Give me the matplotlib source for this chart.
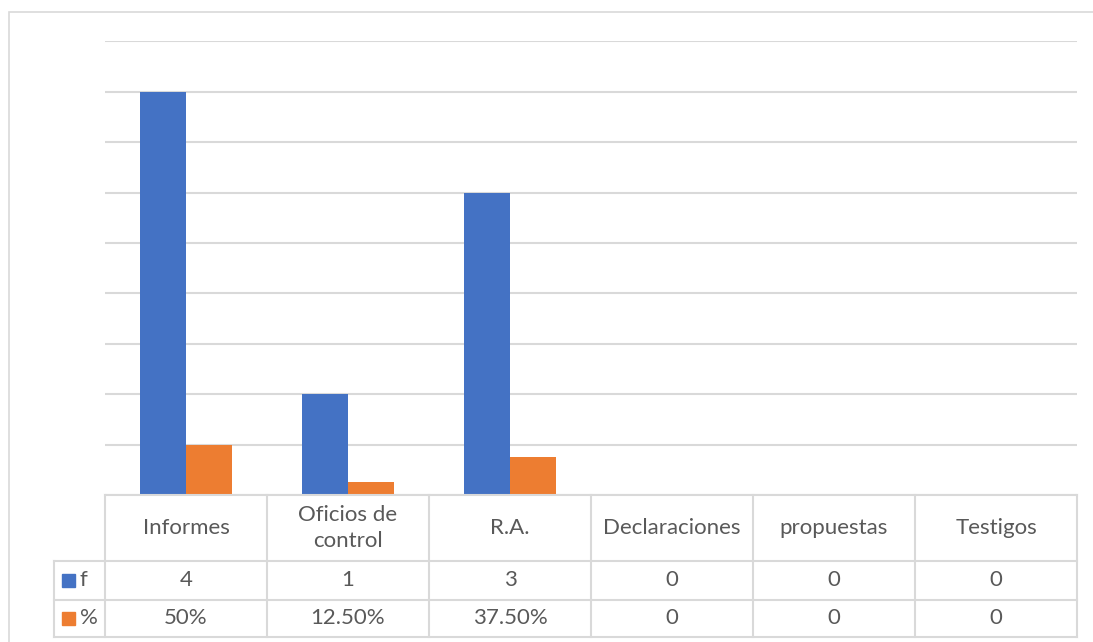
import matplotlib.pyplot as plt
from matplotlib.patches import Rectangle
import numpy as np

plt.rcParams['font.family'] = ['Lato', 'DejaVu Sans']

categories = ["Informes", "Oficios de\ncontrol", "R.A.", "Declaraciones", "propuestas", "Testigos"]
f_vals = [4, 1, 3, 0, 0, 0]
pct_vals = [0.5, 0.125, 0.375, 0, 0, 0]
f_labels = ["4", "1", "3", "0", "0", "0"]
pct_labels = ["50%", "12.50%", "37.50%", "0", "0", "0"]
series = ["f", "%"]

blue = "#4472C4"
orange = "#ED7D31"
grid_c = "#D9D9D9"
text_c = "#595959"

W, H = 1093, 642
fig = plt.figure(figsize=(W / 100, H / 100), dpi=100)

# outer chart border (runs off the right/bottom edge)
fig.patches.append(Rectangle((9 / W, -0.05), 1.1, (H - 12) / H + 0.05, transform=fig.transFigure,
                             fill=False, edgecolor=grid_c, lw=1.2))

# plot area
x0, x1 = 105, 1077
y_axis, y_top = 495, 41.3
ax = fig.add_axes([x0 / W, (H - y_axis) / H, (x1 - x0) / W, (y_axis - y_top) / H])
x = np.arange(len(categories))
bw = 0.284
ax.bar(x - bw / 2, f_vals, bw, color=blue, zorder=3)
ax.bar(x + bw / 2, pct_vals, bw, color=orange, zorder=3)
ax.set_xlim(-0.5, len(categories) - 0.5)
ax.set_ylim(0, 4.5)
ax.set_yticks(np.arange(0, 4.51, 0.5))
ax.yaxis.grid(True, color=grid_c, lw=1.5)
ax.set_axisbelow(True)
ax.tick_params(left=False, bottom=False, labelleft=False, labelbottom=False)
for s in ax.spines.values():
    s.set_visible(False)

# data table below, in pixel coordinates
tx0, ty_bot = 54, 637
tab = fig.add_axes([0, 0, 1, 1], facecolor="none")
tab.set_xlim(0, W)
tab.set_ylim(H, 0)
tab.axis("off")

col_w = (x1 - x0) / len(categories)
row_hdr, row_f = 561, 600
lw = 1.5
# horizontal lines
tab.plot([x0, x1], [y_axis, y_axis], color=grid_c, lw=lw)
for yy in [row_hdr, row_f, ty_bot]:
    tab.plot([tx0, x1], [yy, yy], color=grid_c, lw=lw)
# vertical lines
tab.plot([tx0, tx0], [row_hdr, ty_bot], color=grid_c, lw=lw)
for i in range(len(categories) + 1):
    xx = x0 + i * col_w
    tab.plot([xx, xx], [y_axis, ty_bot], color=grid_c, lw=lw)

fs = 16
for i, cat in enumerate(categories):
    cx = x0 + (i + 0.5) * col_w
    tab.text(cx, (y_axis + row_hdr) / 2, cat, ha="center", va="center", fontsize=fs,
             color=text_c, linespacing=1.4)
    tab.text(cx, (row_hdr + row_f) / 2, f_labels[i], ha="center", va="center", fontsize=fs, color=text_c)
    tab.text(cx, (row_f + ty_bot) / 2, pct_labels[i], ha="center", va="center", fontsize=fs, color=text_c)

# legend keys
for name, color, (ya, yb) in zip(series, [blue, orange], [(row_hdr, row_f), (row_f, ty_bot)]):
    cy = (ya + yb) / 2
    tab.add_patch(Rectangle((62, cy - 6.5), 13, 13, color=color))
    tab.text(80, cy, name, ha="left", va="center", fontsize=fs, color=text_c)

fig.savefig("out.png", dpi=100)
